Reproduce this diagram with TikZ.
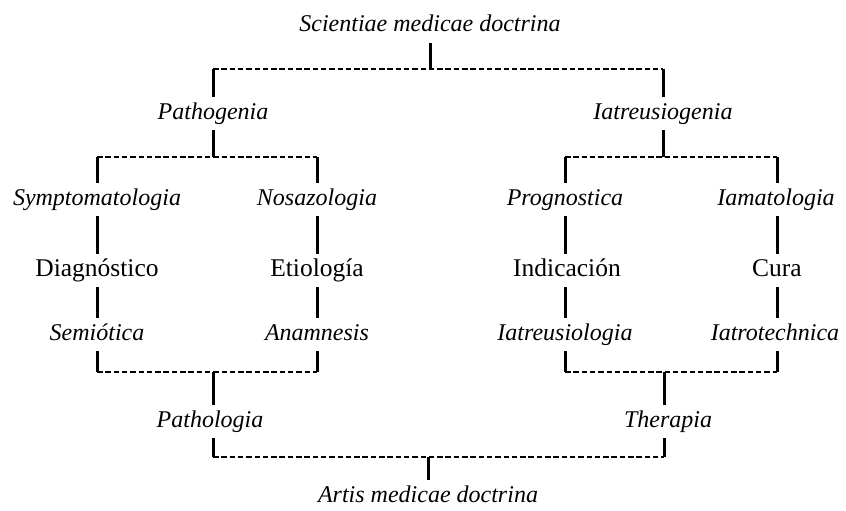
\documentclass[tikz,border=0pt]{standalone}
\usepackage{fontspec}
\setmainfont{Liberation Serif}
\begin{document}
\begin{tikzpicture}[x=1pt,y=-1pt,
  lbl/.style={anchor=base,inner xsep=0pt,inner ysep=6pt,text height=16pt,text depth=5pt,font=\fontsize{24}{28}\selectfont\itshape},
  rlbl/.style={lbl,font=\fontsize{25.5}{28}\selectfont\upshape},
  vl/.style={line width=3pt,line cap=butt},
  dl/.style={line width=2.8pt,dash pattern=on 5.5pt off 2.8pt}]
\useasboundingbox[fill=white] (0,0) rectangle (846,511);
% nodes
\node[lbl] (sci) at (430,32) {Scientiae medicae doctrina};
\node[lbl] (pgen) at (213,119) {Pathogenia};
\node[lbl] (igen) at (663,119) {Iatreusiogenia};
\node[lbl] (sym) at (97,205) {Symptomatologia};
\node[lbl] (noso) at (317,205) {Nosazologia};
\node[lbl] (prog) at (565,205) {Prognostica};
\node[lbl] (iama) at (776,205) {Iamatologia};
\node[rlbl] (diag) at (97,276) {Diagnóstico};
\node[rlbl] (etio) at (317,276) {Etiología};
\node[rlbl] (indi) at (567,276) {Indicación};
\node[rlbl] (cura) at (777,276) {Cura};
\node[lbl] (semi) at (97,340) {Semiótica};
\node[lbl] (anam) at (317,340) {Anamnesis};
\node[lbl] (iatl) at (565,340) {Iatreusiologia};
\node[lbl] (iatt) at (775,340) {Iatrotechnica};
\node[lbl] (ptlg) at (210,427) {Pathologia};
\node[lbl] (ther) at (668,427) {Therapia};
\node[lbl] (artis) at (428,502) {Artis medicae doctrina};
% bar levels
\coordinate (b1) at (0,69);
\coordinate (b2) at (0,157);
\coordinate (b3) at (0,372);
\coordinate (b4) at (0,457);
\coordinate (xl3) at (213,0);
\coordinate (xr3) at (664,0);
\coordinate (xcura) at (777,0);
% top bracket
\draw[vl] (sci.south) -- (sci.south |- b1);
\draw[dl] (pgen.north |- b1) -- (igen.north |- b1);
\draw[vl] (pgen.north |- b1) -- (pgen.north);
\draw[vl] (igen.north |- b1) -- (igen.north);
% second level
\draw[vl] (pgen.south) -- (pgen.south |- b2);
\draw[dl] (sym.north |- b2) -- (noso.north |- b2);
\draw[vl] (sym.north |- b2) -- (sym.north);
\draw[vl] (noso.north |- b2) -- (noso.north);
\draw[vl] (igen.south) -- (igen.south |- b2);
\draw[dl] (prog.north |- b2) -- (xcura |- b2);
\draw[vl] (prog.north |- b2) -- (prog.north);
\draw[vl] (xcura |- b2) -- (xcura |- iama.north);
% columns
\draw[vl] (sym.south) -- (diag.north);
\draw[vl] (diag.south) -- (semi.north);
\draw[vl] (noso.south) -- (etio.north);
\draw[vl] (etio.south) -- (anam.north);
\draw[vl] (prog.south) -- (prog.south |- indi.north);
\draw[vl] (prog.south |- indi.south) -- (iatl.north);
\draw[vl] (xcura |- iama.south) -- (cura.north);
\draw[vl] (cura.south) -- (xcura |- iatt.north);
% third level
\draw[vl] (semi.south) -- (semi.south |- b3);
\draw[vl] (anam.south) -- (anam.south |- b3);
\draw[dl] (semi.south |- b3) -- (anam.south |- b3);
\draw[vl] (xl3 |- b3) -- (xl3 |- ptlg.north);
\draw[vl] (iatl.south) -- (iatl.south |- b3);
\draw[vl] (xcura |- iatt.south) -- (xcura |- b3);
\draw[dl] (iatl.south |- b3) -- (xcura |- b3);
\draw[vl] (xr3 |- b3) -- (xr3 |- ther.north);
% bottom
\draw[vl] (xl3 |- ptlg.south) -- (xl3 |- b4);
\draw[vl] (xr3 |- ther.south) -- (xr3 |- b4);
\draw[dl] (xl3 |- b4) -- (xr3 |- b4);
\draw[vl] (artis.north |- b4) -- (artis.north);
\end{tikzpicture}
\end{document}
